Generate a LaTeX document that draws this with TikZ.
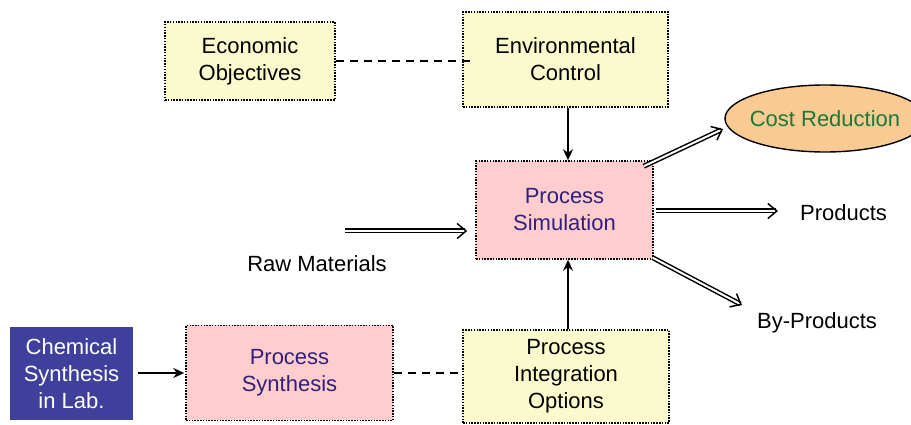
\documentclass[tikz,border=0pt]{standalone}
\usepackage{fontspec}
\setmainfont{Liberation Sans}
\usetikzlibrary{arrows.meta,shapes.geometric}
\definecolor{boxyellow}{RGB}{250,250,205}
\definecolor{boxpink}{RGB}{255,205,205}
\definecolor{boxtext}{RGB}{48,32,122}
\definecolor{costfill}{RGB}{249,202,145}
\definecolor{costtext}{RGB}{26,120,58}
\definecolor{labfill}{RGB}{63,63,156}
\begin{document}
\begin{tikzpicture}[x=1pt,y=1pt,
		font=\fontsize{22}{27}\selectfont,
		yellowbox/.style={draw, dash pattern=on 1.5pt off 1.3pt, line width=1.5pt, fill=boxyellow, align=center, inner sep=0pt},
		pinkbox/.style={yellowbox, fill=boxpink, text=boxtext},
		single/.style={-{Stealth[length=11pt,width=10pt]}, line width=2.6pt},
		twin/.style={double, double distance=2pt, line width=1.5pt, -{Straight Barb[length=9pt,width=15pt]}},
		link/.style={dash pattern=on 8pt off 6pt, line width=2pt}]
			\useasboundingbox (0,0) rectangle (911,425);
			\node[yellowbox, minimum width=170pt, minimum height=78pt] (EO) at (250,364) {Economic\\Objectives};
			\node[yellowbox, minimum width=205pt, minimum height=95pt] (EC) at (565.5,365.5) {Environmental\\Control};
			\node[pinkbox, minimum width=177pt, minimum height=98pt] (PS) at (564.5,215) {Process\\Simulation};
			\node[ellipse, draw, line width=1.4pt, fill=costfill, text=costtext, minimum width=200pt, minimum height=67pt, inner sep=0pt] (CR) at (825,306.5) {\makebox[0pt]{Cost Reduction}};
			\node (PR) at (843.5,212) {Products};
			\node (BP) at (817,102) {By-Products};
			\node (RM) at (317,161) {Raw Materials};
			\node[fill=labfill, text=white, align=center, minimum width=123pt, minimum height=93pt, inner sep=0pt] (CS) at (71.5,51.5) {Chemical\\Synthesis\\in Lab.};
			\node[pinkbox, minimum width=207pt, minimum height=95pt] (SY) at (289.5,52) {Process\\Synthesis};
			\node[yellowbox, minimum width=206pt, minimum height=93pt] (PI) at (566,48.5) {Process\\Integration\\Options};
			\coordinate (RI) at (345,194);
			\coordinate (CE) at (723,296);
			\coordinate (PE) at (778,214);
			\coordinate (BE) at (742,120);
			\draw[link] (EO.east) -- ([xshift=13pt]EO.east -| EC.west);
			\draw[link] (SY.east) -- (SY.east -| PI.west);
			\draw[single] ([xshift=2.5pt]EC.south) -- ([xshift=2.5pt]EC.south |- PS.north);
			\draw[single] ([xshift=2pt]PI.north) -- ([xshift=2pt]PI.north |- PS.south);
			\draw[single, line width=2pt, shorten <=5pt, shorten >=1pt] (CS.east |- SY.west) -- (SY.west);
			\draw[twin] (RI) -- ([xshift=-8pt]RI -| PS.west);
			\draw[twin] ([xshift=-10pt,yshift=-6pt]PS.north east) -- (CE);
			\draw[twin] ([xshift=2pt]PS.east |- PE) -- (PE);
			\draw[twin] ([xshift=-1pt,yshift=2pt]PS.south east) -- (BE);
		\end{tikzpicture}
\end{document}
